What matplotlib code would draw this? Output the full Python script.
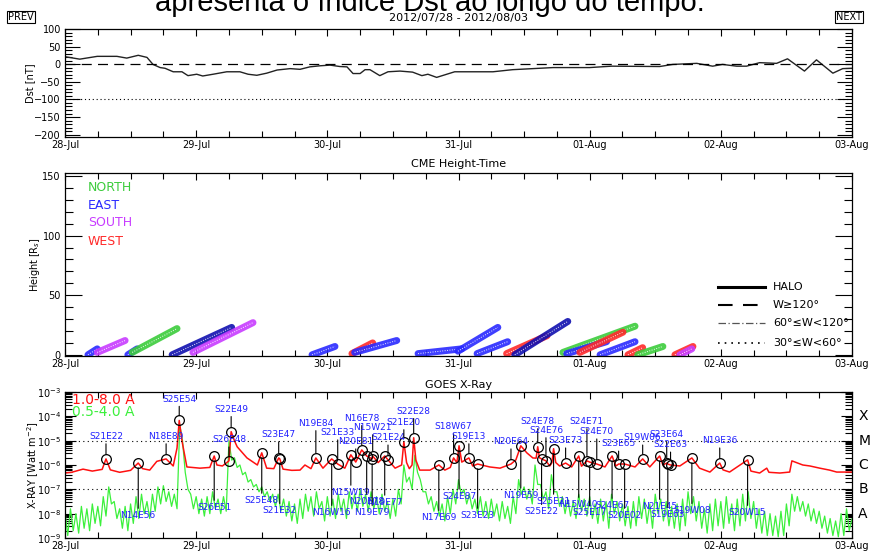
import numpy as np
import matplotlib
matplotlib.use('Agg')
import matplotlib.pyplot as plt
from matplotlib.ticker import FixedLocator, MultipleLocator, LogLocator, NullFormatter
import matplotlib.transforms as mtransforms

plt.rcParams['font.family'] = ['DejaVu Sans']

day_labels = ['28-Jul', '29-Jul', '30-Jul', '31-Jul', '01-Aug', '02-Aug', '03-Aug']

# Dst index, hours since 2012-07-28 00UT
dst_hours = [0, 2.7, 5.9, 9.5, 11.3, 13.4, 15.0, 16.1, 17.4, 18.3, 19.8, 21.4, 22.5, 24.1,
             25.2, 27.1, 29.6, 32.0, 33.5, 35.1, 36.9, 38.8, 41.2, 43.0, 44.8, 46.6, 48.5,
             50.3, 51.6, 52.7, 54.0, 54.9, 55.8, 57.6, 59.1, 61.3, 63.6, 65.3, 66.4, 67.3,
             68.0, 71.3, 78.3, 81.9, 89.3, 96.0, 100.0, 108.8, 111.2, 115.6, 118.5, 120.3,
             122.9, 124.7, 127.1, 130.2, 132.2, 135.3, 137.5, 140.5, 142.3, 144.0]
dst_values = [22, 15, 23, 23, 18, 26, 20, 0, -9, -11, -21, -21, -32, -28,
              -33, -28, -21, -21, -28, -31, -25, -16, -12, -14, -7, -4, -2,
              -6, -7, -26, -26, -15, -15, -32, -21, -19, -22, -32, -28, -33,
              -37, -21, -21, -15, -9, -9, -5, -6, 0, 3, -5, 0,
              -5, -5, 5, 3, 16, -19, 13, -25, -12, -11]

# CME height-time tracks: start/end time (h), start/end height (Rs), direction
cme_t0 = [4.2, 5.9, 11.5, 12.3, 19.6, 23.4, 45.2, 52.5, 53.0, 64.6, 71.9, 75.4, 80.8,
          82.3, 91.1, 91.8, 94.2, 97.9, 103.0, 104.8, 111.6, 112.5]
cme_t1 = [5.9, 11.0, 13.2, 20.5, 30.5, 34.4, 49.4, 56.3, 60.7, 72.6, 79.2, 81.0, 88.2,
          92.0, 104.3, 99.1, 102.1, 104.3, 105.7, 109.4, 114.9, 114.7]
cme_h0 = [0, 2, 0, 2, 0, 2, 0, 1, 2, 1, 3, 1, 1, 0, 2, 1, 2, 0, 0, 0, 0, 0]
cme_h1 = [5, 12, 5, 22, 23, 27, 7, 10, 12, 5, 23, 11, 16, 28, 24, 11, 19, 11, 6, 7, 7, 5]
cme_dir = ['E', 'S', 'E', 'N', 'E2', 'S', 'E', 'W', 'E', 'E', 'E', 'E', 'W',
           'E2', 'N', 'E', 'W', 'E', 'W', 'N', 'W', 'S']

# GOES 1.0-8.0 A flux (log10 W m^-2)
red_hours = [0, 1.2, 3.3, 5.0, 6.8, 7.5, 8.3, 10.0, 12.0, 13.4, 14.2, 15.5, 16.8, 18.5, 19.8,
             20.5, 20.9, 21.4, 22.3, 24.7, 26.5, 27.3, 27.8, 28.8, 30.0, 30.4, 31.0, 31.5,
             33.3, 35.2, 36.0, 36.9, 38.2, 39.1, 39.3, 39.9, 41.5, 43.0, 43.9, 45.0, 45.9,
             47.2, 48.8, 49.9, 51.2, 52.3, 53.2, 54.3, 55.2, 56.2, 56.3, 57.3, 58.5, 59.1,
             60.4, 61.6, 62.0, 62.5, 63.0, 63.5, 63.8, 64.2, 64.9, 66.8, 68.4, 69.5, 70.5,
             71.1, 71.7, 72.1, 72.6, 73.9, 74.6, 75.5, 77.7, 79.6, 81.6, 82.5, 83.4, 84.5,
             85.6, 86.2, 86.5, 86.8, 87.2, 88.0, 88.7, 89.1, 89.4, 89.8, 90.5, 91.6, 92.7,
             94.0, 94.5, 95.5, 96.0, 97.3, 98.8, 100.1, 100.8, 101.3, 102.4, 104.3, 105.7,
             107.0, 108.8, 109.4, 110.1, 110.3, 110.8, 112.5, 114.7, 116.1, 118.0, 119.8,
             120.4, 121.6, 124.9, 125.5, 127.1, 128.4, 128.8, 130.8, 132.6, 133.0, 135.0,
             136.3, 138.1, 139.9, 141.2, 144.0]
red_log = [-6.33, -6.30, -6.17, -6.25, -6.18, -5.75, -6.2, -6.3, -6.22, -5.92, -6.15, -6.21,
           -5.85, -5.75, -6.04, -5.3, -4.17, -5.0, -6.08, -6.13, -6.1, -5.63, -6.0, -6.04,
           -5.83, -4.63, -5.0, -5.25, -5.71, -6.0, -5.5, -6.13, -6.15, -5.71, -5.75, -6.17,
           -6.22, -6.21, -6.0, -6.15, -5.71, -6.13, -5.75, -5.96, -6.13, -5.58, -5.88, -5.38,
           -5.63, -5.75, -5.63, -5.9, -5.63, -5.79, -6.13, -6.0, -5.04, -5.9, -6.15, -6.0,
           -4.88, -5.8, -6.21, -6.21, -6.0, -6.21, -6.1, -5.71, -5.9, -5.21, -5.88, -5.71,
           -6.04, -5.96, -6.08, -6.13, -5.96, -5.79, -5.21, -5.5, -5.71, -5.72, -5.25, -5.7,
           -5.75, -5.83, -6.04, -5.9, -5.33, -5.9, -6.04, -5.92, -6.08, -5.63, -6.05, -5.83,
           -5.88, -5.96, -6.08, -5.63, -6.04, -5.96, -5.96, -6.08, -5.75, -6.08, -5.63, -6.0,
           -5.92, -5.96, -6.0, -6.04, -5.71, -6.13, -6.29, -5.92, -6.2, -6.29, -5.79, -6.25,
           -6.33, -6.13, -6.3, -6.33, -6.29, -5.83, -6.0, -6.04, -6.13, -6.21, -6.29, -6.29]

# GOES 0.5-4.0 A flux, hourly upper / lower envelope (log10 W m^-2)
green_hi = [-7.9, -7.8, -8.0, -7.7, -7.8, -7.6, -7.7, -7.3, -6.9, -7.5, -7.8, -7.7, -7.6, -7.3,
            -7.2, -7.5, -7.2, -6.9, -6.85, -7.1, -7.2, -4.35, -6.3, -7.2,
            -7.3, -7.4, -7.3, -7.1, -7.4, -7.3, -5.0, -5.7, -6.0, -6.3, -6.6, -6.8, -6.9, -7.1,
            -7.2, -7.2, -7.4, -7.5, -7.6, -7.4, -7.2, -7.3, -7.1, -7.5,
            -7.3, -7.4, -7.2, -7.4, -7.1, -7.2, -7.0, -7.2, -7.1, -7.3, -7.2, -7.5, -7.4, -7.0,
            -6.0, -6.5, -5.6, -6.6, -7.1, -7.3, -7.5, -7.6, -7.3, -7.0,
            -6.6, -7.0, -7.2, -7.4, -7.3, -7.5, -7.4, -7.6, -7.5, -7.7, -7.3, -6.6, -6.9, -7.0,
            -6.0, -6.8, -7.1, -6.4, -7.1, -7.3, -7.4, -7.5, -7.2, -7.4,
            -7.3, -7.6, -7.4, -7.5, -7.2, -7.5, -7.6, -7.7, -7.5, -7.3, -7.4, -7.6, -7.2, -7.4,
            -7.5, -7.7, -7.6, -7.4, -7.1, -7.3, -7.5, -7.8, -7.6, -7.4,
            -7.5, -7.3, -7.6, -7.4, -7.2, -7.1, -7.5, -7.8, -7.9, -8.0, -8.1, -7.9, -7.6, -7.2,
            -7.3, -7.5, -7.6, -7.8, -7.9, -8.1, -8.2, -8.3, -8.0, -7.8, -8.2]
green_lo = [-8.9, -8.7, -8.8, -8.6, -8.7, -8.4, -8.5, -8.1, -7.6, -8.2, -8.6, -8.7, -8.4, -8.2,
            -8.0, -8.2, -7.9, -7.6, -7.5, -7.7, -7.8, -5.0, -7.0, -7.8,
            -8.0, -8.1, -8.0, -7.8, -8.0, -7.9, -5.8, -6.1, -6.4, -6.7, -6.9, -7.1, -7.3, -7.5,
            -7.7, -7.9, -8.1, -8.3, -8.4, -8.2, -7.9, -8.1, -7.8, -8.3,
            -8.1, -8.2, -7.9, -8.2, -7.8, -7.9, -7.7, -7.9, -7.8, -8.0, -7.9, -8.2, -8.1, -7.6,
            -6.7, -7.0, -6.3, -7.1, -7.6, -7.9, -8.1, -8.3, -8.0, -7.6,
            -7.2, -7.6, -7.8, -8.0, -8.1, -8.2, -8.1, -8.3, -8.2, -8.4, -8.0, -7.2, -7.4, -7.6,
            -6.8, -7.4, -7.8, -7.1, -7.7, -8.0, -8.1, -8.2, -7.9, -8.1,
            -8.2, -8.4, -8.3, -8.6, -8.0, -8.3, -8.5, -8.6, -8.5, -8.2, -8.4, -8.6, -8.0, -8.3,
            -8.5, -8.6, -8.7, -8.5, -8.0, -8.3, -8.6, -8.8, -8.7, -8.5,
            -8.6, -8.4, -8.7, -8.5, -8.3, -8.2, -8.6, -8.8, -8.9, -8.9, -8.95, -8.9, -8.5, -7.9,
            -7.9, -8.1, -8.3, -8.4, -8.6, -8.8, -8.9, -8.95, -8.9, -8.7, -8.9]

# flares: time (h), peak (log10), source region, label level (log10)
flare_hours = [7.5, 13.4, 18.5, 20.9, 27.3, 30.0, 30.4, 36.0, 39.1, 39.3, 45.9, 48.8, 49.9,
               52.3, 53.2, 54.3, 55.2, 56.3, 56.2, 58.5, 59.1, 62.0, 63.8, 68.4, 71.1, 72.1,
               73.9, 75.5, 81.6, 83.4, 86.5, 87.2, 88.0, 89.4, 91.6, 94.0, 95.5, 96.0, 97.3,
               100.1, 101.3, 102.4, 105.7, 108.8, 110.1, 110.3, 110.8, 114.7, 119.8, 124.9]
flare_peak = [-5.75, -5.92, -5.75, -4.17, -5.63, -5.83, -4.63, -5.5, -5.71, -5.75, -5.71,
              -5.75, -5.96, -5.58, -5.88, -5.38, -5.63, -5.63, -5.75, -5.63, -5.79, -5.04,
              -4.88, -6.0, -5.71, -5.21, -5.71, -5.96, -5.96, -5.21, -5.25, -5.75, -5.83,
              -5.33, -5.92, -5.63, -5.83, -5.88, -5.96, -5.63, -5.96, -5.96, -5.75, -5.63,
              -5.92, -5.96, -6.0, -5.71, -5.92, -5.79]
flare_region = ['S21E22', 'N14E56', 'N18E89', 'S25E54', 'S26E51', 'S26E48', 'S22E49',
                'S25E48', 'S23E47', 'S21E32', 'N19E84', 'N16W16', 'S21E33', 'N15W19',
                'N20E81', 'N16E78', 'N20E78', 'N15W21', 'N19E79', 'N19E77', 'S21E24',
                'S21E20', 'S22E28', 'N17E69', 'S18W67', 'S24E87', 'S19E13', 'S23E23',
                'N20E64', 'N19E59', 'S24E78', 'S25E22', 'S24E76', 'S25E21', 'S23E73',
                'N15W40', 'S24E71', 'S25E17', 'S24E70', 'S24E67', 'S23E65', 'S20E02',
                'S19W06', 'N21E45', 'S23E64', 'S19E63', 'S22E63', 'S19W08', 'N19E36', 'S20W15']
flare_label_level = [-4.83, -8.08, -4.83, -3.29, -7.75, -4.96, -3.71, -7.46, -4.75, -7.88,
                     -4.29, -7.96, -4.67, -7.13, -5.04, -4.08, -7.5, -4.46, -7.96, -7.54,
                     -4.88, -4.25, -3.79, -8.17, -4.42, -7.29, -4.83, -8.08, -5.04, -7.25,
                     -4.21, -7.92, -4.58, -7.5, -5.0, -7.63, -4.21, -7.96, -4.63, -7.67,
                     -5.13, -8.08, -4.88, -7.71, -4.75, -8.04, -5.17, -7.88, -5.0, -7.96]

goes_classes = ['X', 'M', 'C', 'B', 'A']

cme_colors = {'N': '#3ccc3c', 'E': '#2a2aff', 'E2': '#1010b0', 'S': '#c83cff', 'W': '#ff2a2a'}

fig = plt.figure(figsize=(8.71, 5.54), dpi=100)


def rect(top, bottom):
    return [65 / 871, 1 - bottom / 554, 787 / 871, (bottom - top) / 554]


def time_axis(ax):
    ax.set_xlim(0, 144)
    ax.xaxis.set_major_locator(FixedLocator(np.arange(0, 145, 24)))
    ax.xaxis.set_minor_locator(MultipleLocator(6))
    ax.set_xticklabels(day_labels)
    ax.tick_params(axis='x', which='both', direction='in', top=True, bottom=True,
                   labelsize=7, pad=2.5, width=0.8)
    ax.tick_params(axis='x', which='major', length=5)
    ax.tick_params(axis='x', which='minor', length=4)
    for s in ax.spines.values():
        s.set_linewidth(0.9)


ax1 = fig.add_axes(rect(29, 137))
ax2 = fig.add_axes(rect(173, 356))
ax3 = fig.add_axes(rect(392, 538))

# --- Dst
ax1.plot(dst_hours, dst_values, color='#222222', lw=1)
ax1.axhline(0, color='k', lw=0.9, ls=(0, (8, 5)))
ax1.axhline(-100, color='k', lw=0.8, ls=(0, (1, 2.5)))
time_axis(ax1)
ax1.set_ylim(-207, 101)
ax1.yaxis.set_major_locator(MultipleLocator(50))
ax1.yaxis.set_minor_locator(MultipleLocator(10))
ax1.tick_params(axis='y', which='both', direction='in', left=True, right=True,
                labelsize=7, pad=3, width=0.8)
ax1.tick_params(axis='y', which='major', length=11)
ax1.tick_params(axis='y', which='minor', length=5)
fig.text(30 / 871, 1 - 83 / 554, 'Dst [nT]', rotation=90, fontsize=7, ha='center', va='center')

# --- CME height-time
for t0, t1, h0, h1, d in zip(cme_t0, cme_t1, cme_h0, cme_h1, cme_dir):
    ax2.plot([t0, t1], [h0, h1], color=cme_colors[d], lw=5, solid_capstyle='round', alpha=0.9)
    ax2.plot([t0, t1], [h0, h1], color='white', lw=0.7, ls=(0, (1, 1.5)), alpha=0.9)
time_axis(ax2)
ax2.set_ylim(-1, 152.5)
ax2.yaxis.set_major_locator(MultipleLocator(50))
ax2.yaxis.set_minor_locator(MultipleLocator(10))
ax2.tick_params(axis='y', which='both', direction='in', left=True, right=True,
                labelsize=7, pad=3, width=0.8)
ax2.tick_params(axis='y', which='major', length=12)
ax2.tick_params(axis='y', which='minor', length=6)
ax2.set_title('CME Height-Time', fontsize=8, pad=4)
fig.text(35 / 871, 1 - 265 / 554, 'Height [R$_s$]', rotation=90, fontsize=7,
         ha='center', va='center')

for name, key, y in zip(['NORTH', 'EAST', 'SOUTH', 'WEST'], ['N', 'E', 'S', 'W'],
                        [0.923, 0.825, 0.727, 0.623]):
    ax2.text(0.029, y, name, transform=ax2.transAxes, color=cme_colors[key],
             fontsize=9, va='center', ha='left')

styles = [('HALO', '-', 2.2, 'k'), ('W\u2265120\u00b0', (0, (7, 5)), 1.5, 'k'),
          ('60\u00b0\u2264W<120\u00b0', (0, (6, 2, 1, 2)), 0.9, '#555555'),
          ('30\u00b0\u2264W<60\u00b0', (0, (1, 3)), 1.2, 'k')]
for (lab, ls, lw, c), y in zip(styles, [0.377, 0.279, 0.180, 0.071]):
    ax2.plot([0.830, 0.889], [y, y], transform=ax2.transAxes, color=c, ls=ls, lw=lw)
    ax2.text(0.8996, y, lab, transform=ax2.transAxes, fontsize=8, va='center', ha='left')

# --- GOES X-ray
gh = np.arange(len(green_hi))
gt = np.empty(2 * len(gh))
gv = np.empty(2 * len(gh))
gt[0::2] = gh
gt[1::2] = gh + 0.5
gv[0::2] = green_hi
gv[1::2] = green_lo
ax3.plot(gt, 10.0 ** gv, color='#3cf03c', lw=0.9)
ax3.plot(red_hours, 10.0 ** np.array(red_log), color='#ff1010', lw=1.1)
ax3.axhline(1e-5, color='k', lw=0.8, ls=(0, (1, 3)))
ax3.axhline(1e-7, color='k', lw=0.8, ls=(0, (1, 3)))
time_axis(ax3)
ax3.set_yscale('log')
ax3.set_ylim(1e-9, 1e-3)
ax3.yaxis.set_major_locator(LogLocator(base=10, numticks=10))
ax3.yaxis.set_minor_locator(LogLocator(base=10, subs=np.arange(2, 10), numticks=10))
ax3.yaxis.set_minor_formatter(NullFormatter())
ax3.tick_params(axis='y', which='both', direction='in', left=True, right=True,
                labelsize=7, pad=3, width=0.8)
ax3.tick_params(axis='y', which='major', length=8)
ax3.tick_params(axis='y', which='minor', length=5)
ax3.set_title('GOES X-Ray', fontsize=8, pad=3)
fig.text(33 / 871, 1 - 465 / 554, 'X-RAY [Watt m$^{-2}$]', rotation=90, fontsize=7,
         ha='center', va='center')

trans = mtransforms.blended_transform_factory(ax3.transAxes, ax3.transData)
for cls, lv in zip(goes_classes, [1e-4, 1e-5, 1e-6, 1e-7, 1e-8]):
    ax3.text(1.008, lv, cls, transform=trans, fontsize=10, va='center', ha='left')

ax3.text(0.009, 0.945, '1.0-8.0 A', transform=ax3.transAxes, color='#ff1010', fontsize=10,
         va='center', ha='left')
ax3.text(0.009, 0.863, '0.5-4.0 A', transform=ax3.transAxes, color='#3cf03c', fontsize=10,
         va='center', ha='left')

for t, p, reg, lv in zip(flare_hours, flare_peak, flare_region, flare_label_level):
    ax3.annotate(reg, xy=(t, 10.0 ** p), xytext=(t, 10.0 ** lv), ha='center', va='center',
                 fontsize=6.5, color='#2020ff', zorder=6,
                 arrowprops=dict(arrowstyle='-', color='k', lw=0.8, shrinkA=0, shrinkB=3.5))
ax3.plot(flare_hours, 10.0 ** np.array(flare_peak), 'o', mfc='none', mec='k', ms=7, mew=0.9,
         zorder=5)

# --- header (caption partly cut off at the top, as in the screenshot)
fig.text(0.493, 1 - 11 / 554, 'apresenta o \u00edndice Dst ao longo do tempo.',
         fontsize=21, ha='center', va='baseline', family=['Liberation Sans', 'DejaVu Sans'])
fig.text(458 / 871, 1 - 18 / 554, '2012/07/28 - 2012/08/03', fontsize=8,
         ha='center', va='center')
box = dict(boxstyle='square,pad=0.15', fc='white', ec='black', lw=0.8)
fig.text(21 / 871, 1 - 17 / 554, 'PREV', fontsize=7, ha='center', va='center', bbox=box)
fig.text(849 / 871, 1 - 17 / 554, 'NEXT', fontsize=7, ha='center', va='center', bbox=box)

fig.savefig('out.png', dpi=100)
